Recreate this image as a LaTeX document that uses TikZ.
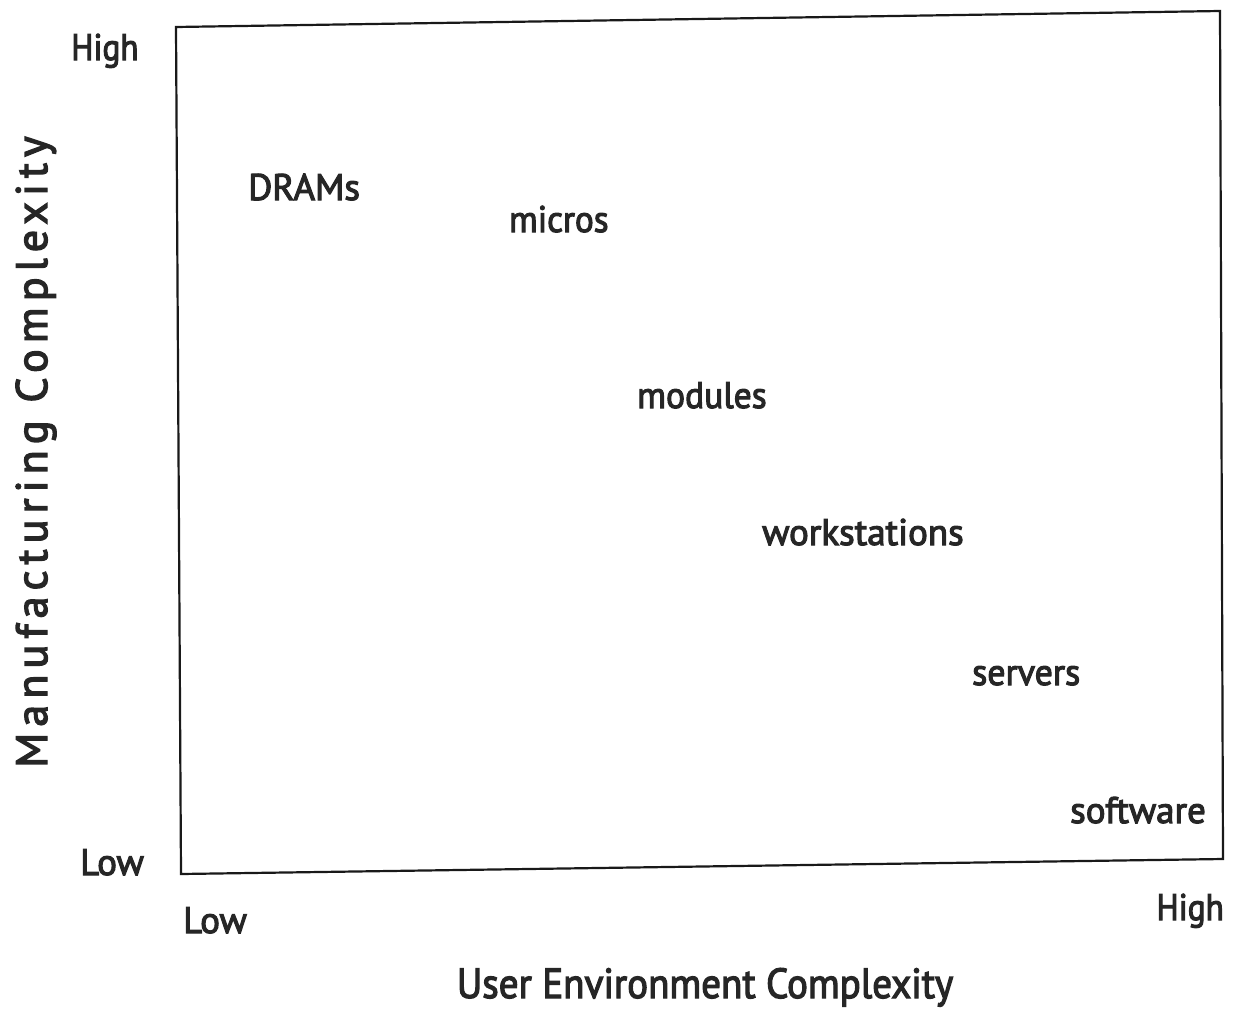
\documentclass[tikz,border=0pt]{standalone}
\usepackage{fontspec}
\setmainfont{PT Sans}[FakeBold=3]
\newfontfamily\ytitlefont{PT Sans}[FakeBold=3,LetterSpace=14]
\begin{document}
\begin{tikzpicture}[x=1pt,y=-1pt,
  lbl/.style={inner sep=0pt,anchor=base west,text=black!85,font=\fontsize{37}{40}\selectfont},
  ttl/.style={inner sep=0pt,text=black!85},
  frame/.style={draw=black!90,line width=2.2pt}]
\useasboundingbox (0,0) rectangle (1237,1020);
\coordinate (tl) at (176,27);
\coordinate (tr) at (1220,11);
\coordinate (br) at (1223,859);
\coordinate (bl) at (181,874);
\draw[frame] (tl) -- (tr) -- (br) -- (bl) -- cycle;
\node[lbl,xscale=0.9] (yhigh) at (71,60) {High};
\node[lbl] (ylow) at (80,875) {Low};
\node[lbl] (xlow) at (183,933) {Low};
\node[lbl,anchor=base east,xscale=0.9] (xhigh) at (1224,920) {High};
\node[lbl] (drams) at (248,200) {DRAMs};
\node[lbl,xscale=0.95] (micros) at (509,232) {micros};
\node[lbl,xscale=0.96] (modules) at (637,408) {modules};
\node[lbl] (work) at (762,545) {workstations};
\node[lbl,xscale=0.97] (servers) at (972,685) {servers};
\node[lbl] (soft) at (1070,823) {software};
\node[ttl,anchor=base,xscale=0.93,font=\fontsize{42}{46}\selectfont] (xt) at (705,998) {User Environment Complexity};
\node[ttl,anchor=base,rotate=90,font=\ytitlefont\fontsize{44}{48}\selectfont] (yt) at (47,452) {Manufacturing Complexity};
\end{tikzpicture}
\end{document}
